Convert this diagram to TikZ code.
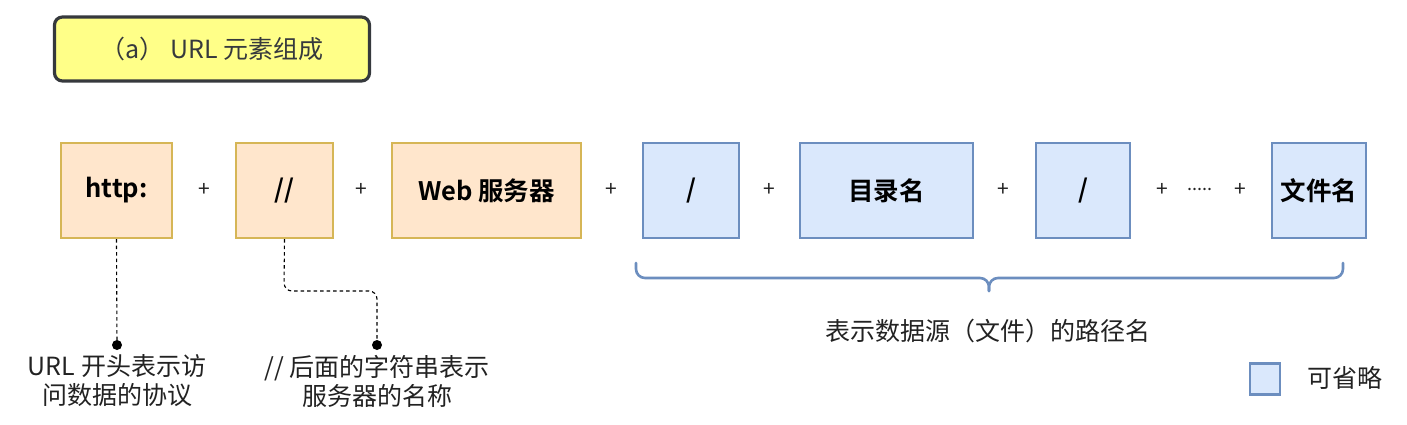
\documentclass[tikz,border=0pt]{standalone}
\usepackage{fontspec}
\setmainfont{Noto Sans CJK SC}
\newfontfamily\cjkbold{Noto Sans CJK SC Bold}
\usetikzlibrary{positioning}
\definecolor{ofill}{HTML}{FFE6CC}
\definecolor{oline}{HTML}{D6B656}
\definecolor{bfill}{HTML}{DAE8FC}
\definecolor{bline}{HTML}{6C8EBF}
\definecolor{yfill}{HTML}{FFFF88}
\definecolor{yline}{HTML}{36393D}
\definecolor{txt}{HTML}{222222}
\tikzset{
  obox/.style={draw=oline, fill=ofill, line width=2.2pt, minimum height=95pt, inner sep=0pt, font=\cjkbold\fontsize{25.5pt}{30pt}\selectfont, text=black},
  bbox/.style={draw=bline, fill=bfill, line width=2.2pt, minimum height=95pt, inner sep=0pt, font=\cjkbold\fontsize{25.5pt}{30pt}\selectfont, text=black},
  plus/.style={font=\fontsize{21pt}{25pt}\selectfont, text=txt},
  lbl/.style={font=\fontsize{25pt}{29pt}\selectfont, text=txt, align=center},
  dline/.style={draw=black, line width=1.1pt, dash pattern=on 3.5pt off 3pt},
  dotend/.style={circle, fill=black, inner sep=0pt, minimum size=10pt},
  brc/.style={draw=bline, line width=2.6pt, rounded corners=9pt, line cap=round}
}
\begin{document}
\begin{tikzpicture}[x=1pt,y=-1pt]
\useasboundingbox (0,0) rectangle (1407,424);
% title
\node[draw=yline, fill=yfill, line width=3.2pt, rounded corners=8pt, minimum width=315pt, minimum height=64pt, font=\fontsize{25pt}{30pt}\selectfont, text=yline] (title) at (212,49) {（a） URL 元素组成};
% orange boxes
\node[obox, minimum width=111pt] (http) at (116.5,190.5) {http:};
\node[plus] (p1) at (204,190) {+};
\node[obox, minimum width=97pt] (ss) at (284.5,190.5) {//};
\node[plus] (p2) at (361,190) {+};
\node[obox, minimum width=189pt] (web) at (486.5,190.5) {Web 服务器};
\node[plus] (p3) at (611,190) {+};
% blue boxes
\node[bbox, minimum width=96pt] (s1) at (691,190.5) {/};
\node[plus] (p4) at (769,190) {+};
\node[bbox, minimum width=173pt] (dir) at (886.5,190.5) {目录名};
\node[plus] (p5) at (1003,190) {+};
\node[bbox, minimum width=94pt] (s2) at (1083,190.5) {/};
\node[plus] (p6) at (1162,190) {+};
\node[plus, font=\fontsize{18pt}{22pt}\selectfont] (dots) at (1200,189) {.....};
\node[plus] (p7) at (1240,190) {+};
\node[bbox, minimum width=94pt] (file) at (1319,190.5) {文件名};
% brace
\coordinate (bl) at (636,263);
\coordinate (br) at (1343,263);
\coordinate (bt) at (989,291);
\draw[brc] (bl) -- (636,278) -- (989,278) -- (bt);
\draw[brc] (br) -- (1343,278) -- (989,278) -- (bt);
\node[lbl] (path) at (988,331) {表示数据源（文件）的路径名};
% callouts
\node[dotend] (d1) at (117,345) {};
\node[dotend] (d2) at (377,345) {};
\draw[dline] (http.south) -- (d1.center);
\draw[dline, rounded corners=8pt] (ss.south) -- (284,291) -- (377,291) -- (d2.center);
\node[lbl] (l1) at (117,381) {URL 开头表示访\\问数据的协议};
\node[lbl] (l2) at (377,381) {// 后面的字符串表示\\服务器的名称};
% legend
\node[draw=bline, fill=bfill, line width=2.2pt, minimum width=30pt, minimum height=31pt, inner sep=0pt] (leg) at (1265,379) {};
\node[lbl, anchor=west] (legt) at (1304,378) {可省略};
\end{tikzpicture}
\end{document}
